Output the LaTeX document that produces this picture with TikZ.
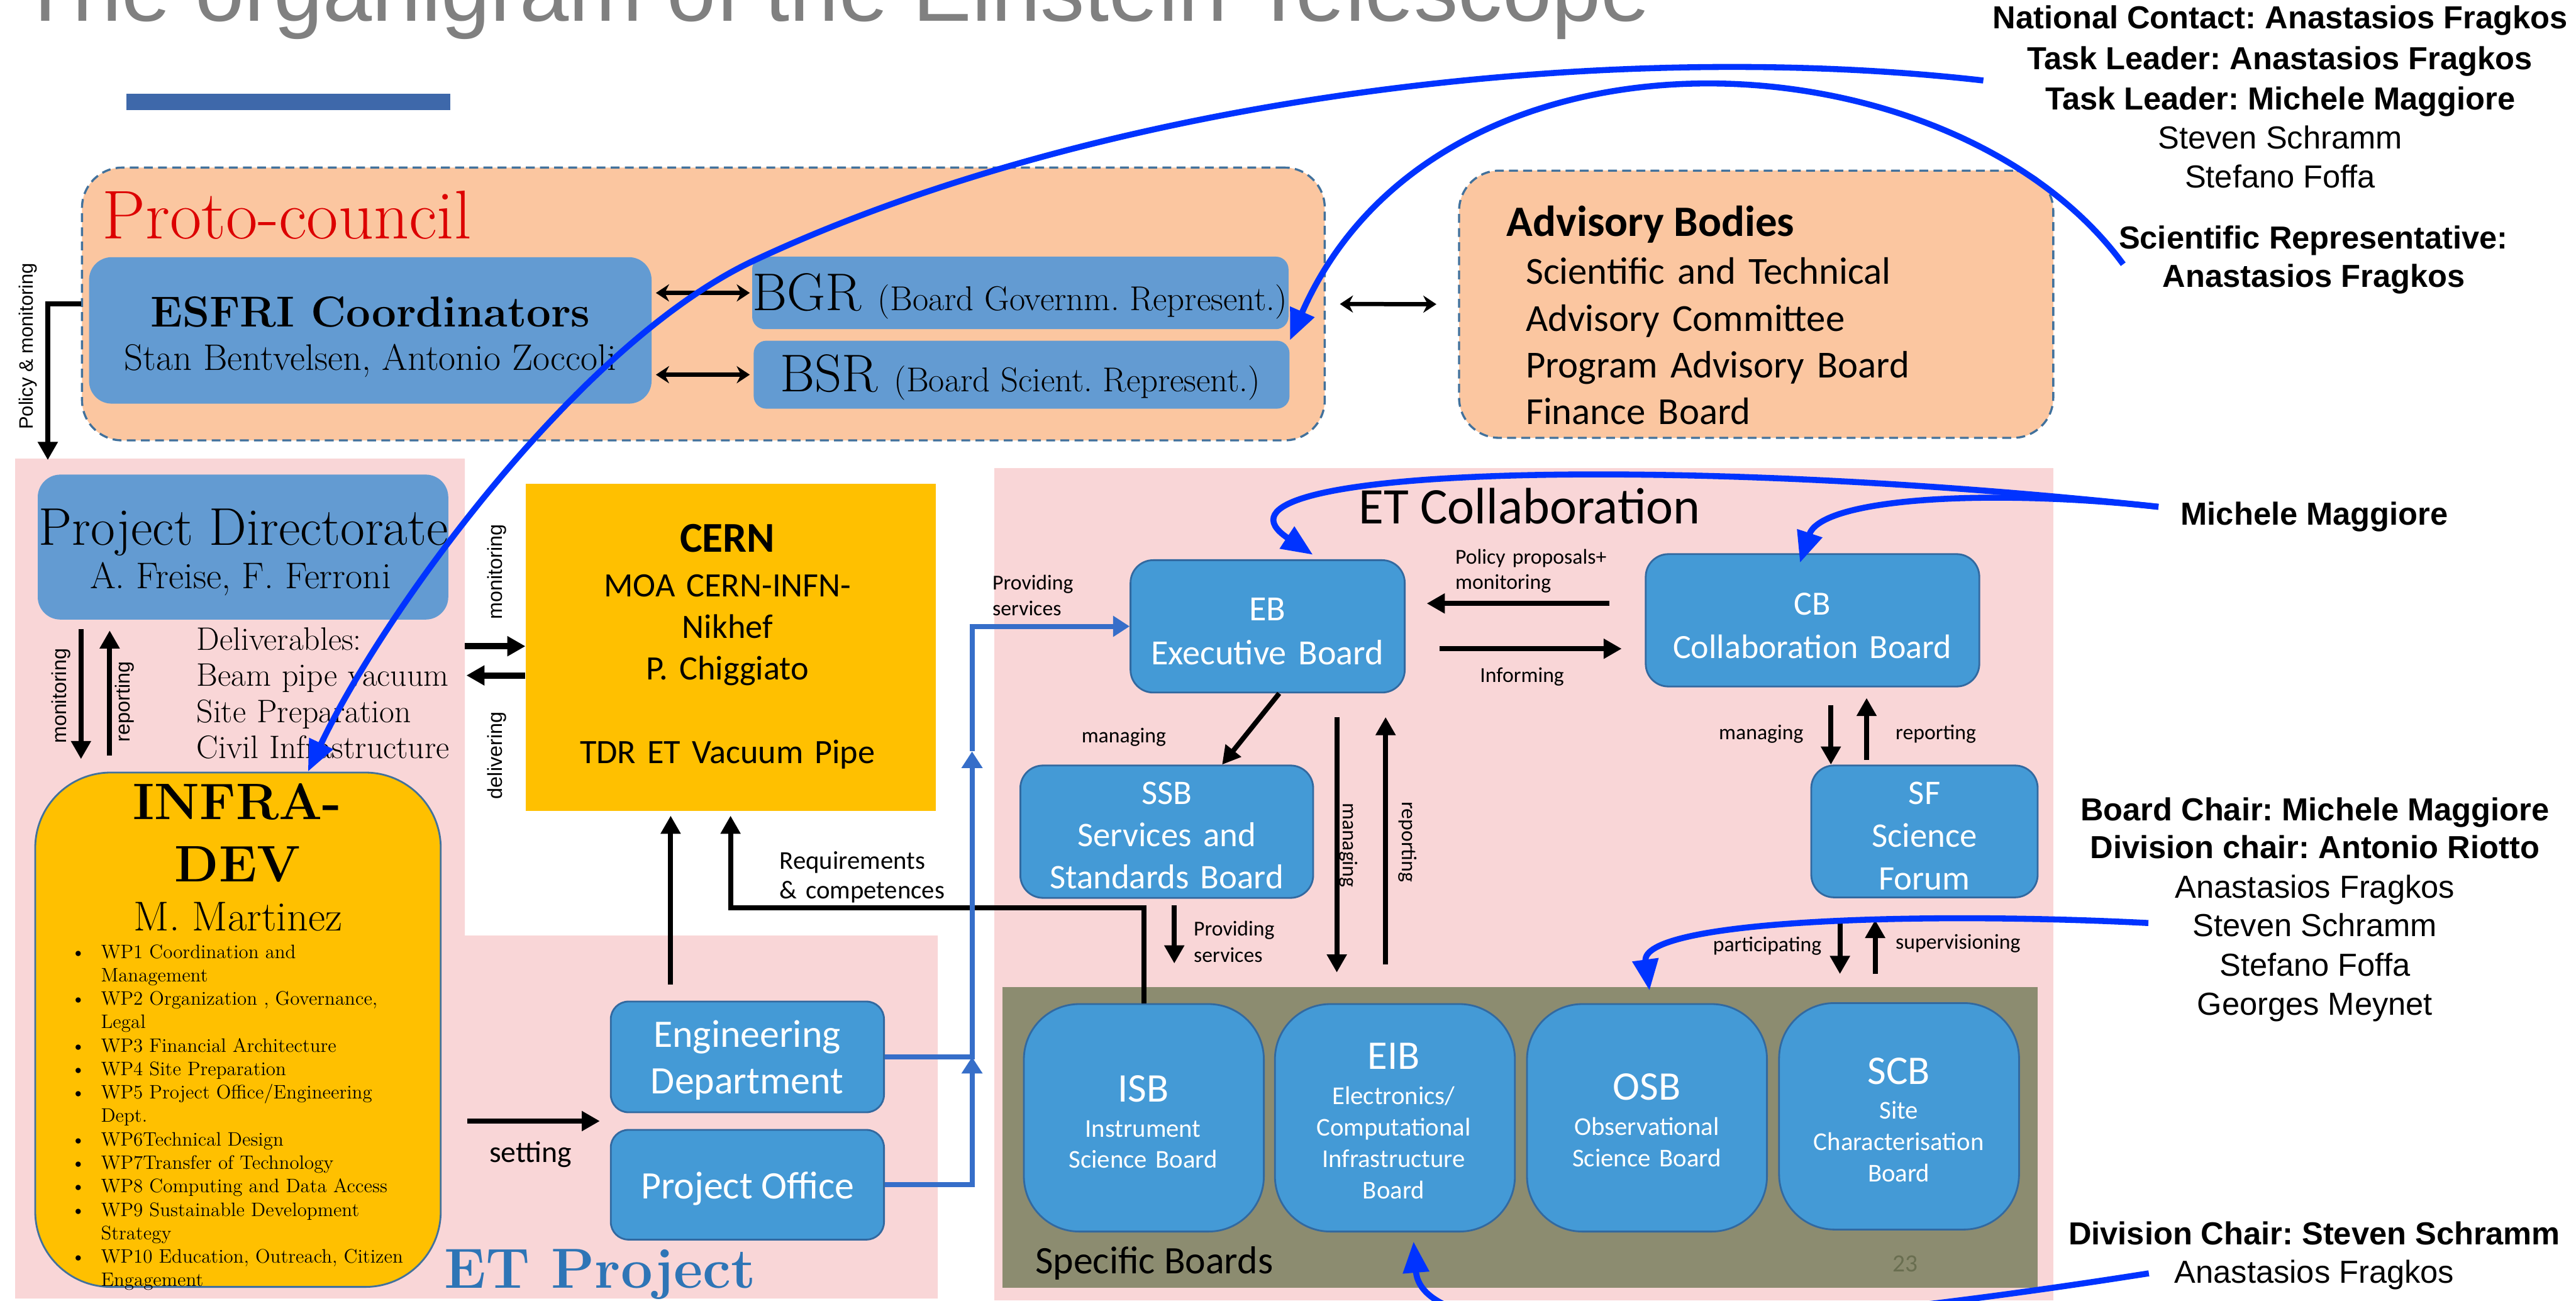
\documentclass[tikz,border=0pt]{standalone}
\usepackage{fontspec}
\usetikzlibrary{arrows,arrows.meta,calc}

\newfontfamily\calfont{Carlito}
\newfontfamily\helvfont{Liberation Sans}
\newcommand{\fsz}[2]{\fontsize{#1}{#2}\selectfont}
\frenchspacing

\definecolor{peach}{RGB}{251,198,160}
\definecolor{dashblue}{RGB}{65,113,156}
\definecolor{softblue}{RGB}{99,155,210}
\definecolor{pinkbg}{RGB}{249,214,215}
\definecolor{amber}{RGB}{255,192,0}
\definecolor{boxblue}{RGB}{68,154,214}
\definecolor{boxline}{RGB}{50,105,160}
\definecolor{boardolive}{RGB}{140,140,112}
\definecolor{serviceblue}{RGB}{54,110,201}
\definecolor{noteblue}{RGB}{0,51,255}
\definecolor{titlegray}{RGB}{128,128,128}
\definecolor{projblue}{RGB}{46,117,182}
\definecolor{protored}{RGB}{220,0,0}
\definecolor{barblue}{RGB}{62,104,170}
\definecolor{pagenum}{RGB}{105,110,80}

\begin{document}
\begin{tikzpicture}[x=1cm,y=-1cm]
\tikzstyle{council} = [rectangle, draw=dashblue, dash pattern=on 5pt off 3pt, line width=1.2pt, fill=peach, rounded corners=0.8cm]
\tikzstyle{softbox} = [rectangle, fill=softblue, rounded corners=0.45cm]
\tikzstyle{board} = [rectangle, draw=boxline, line width=1pt, fill=boxblue, rounded corners=0.45cm]
\tikzstyle{specific} = [board, rounded corners=1.1cm, minimum width=4.77cm, minimum height=4.52cm]
\tikzstyle{words} = [inner sep=0pt, align=center]
\tikzstyle{lbl} = [inner sep=0pt, font=\calfont\fsz{12}{14.5}]
\tikzstyle{sidetext} = [inner sep=0pt, anchor=base, font=\helvfont\fsz{18}{22}]
\tikzstyle{line} = [draw, line width=2.8pt, ->, >={Triangle[length=0.36cm,width=0.38cm]}]
\tikzstyle{twoway} = [draw, line width=2.4pt, <->, >={Stealth[length=0.26cm,width=0.34cm]}]
\tikzstyle{service} = [draw=serviceblue, line width=2.8pt, ->, >={Triangle[length=0.33cm,width=0.4cm]}]
\tikzstyle{note} = [draw=noteblue, line width=3.4pt, ->, >={Triangle[length=0.62cm,width=0.5cm]}]

\useasboundingbox (0,0) rectangle (51.2,25.84);

% backdrops
\fill[pinkbg] (0.30,9.11) -- (9.24,9.11) -- (9.24,18.59) -- (18.64,18.59) -- (18.64,25.80) -- (0.30,25.80) -- cycle;
\fill[pinkbg] (19.76,9.30) rectangle (40.81,25.84);
\node[rectangle, fill=boardolive, inner sep=0pt, minimum width=20.58cm, minimum height=5.98cm] (spec) at (30.21,22.60) {};

\node[anchor=base west, inner sep=0pt, text=titlegray, font=\helvfont\fsz{50}{60}] (title) at (0.36,0.42) {The organigram of the Einstein Telescope};
\fill[barblue] (2.51,1.86) rectangle (8.95,2.19);

% proto-council
\node[council, minimum width=24.70cm, minimum height=5.42cm] (proto) at (13.98,6.04) {};
\node[words, anchor=base west, text=protored, font=\fsz{39}{44}] (proto-lbl) at (2.03,4.74) {Proto-council};
\node[softbox, minimum width=11.18cm, minimum height=2.91cm] (esfri) at (7.36,6.565) {};
\node[words, anchor=base, font=\bfseries\fsz{24.5}{28}] (esfri-head) at (7.36,6.49) {ESFRI Coordinators};
\node[words, anchor=base, font=\fsz{20.9}{24}] (esfri-names) at (7.36,7.35) {Stan Bentvelsen, Antonio Zoccoli};
\node[softbox, rounded corners=0.25cm, minimum width=10.66cm, minimum height=1.44cm] (bgr) at (20.28,5.82) {};
\node[softbox, rounded corners=0.25cm, minimum width=10.65cm, minimum height=1.35cm] (bsr) at (20.305,7.445) {};
\node[words, anchor=base west, font=\fsz{30}{33}] (bgr-txt) at (14.95,6.17) {BGR\ {\fsz{19.5}{22}(Board Governm. Represent.)}};
\node[words, anchor=base west, font=\fsz{30}{33}] (bsr-txt) at (15.50,7.78) {BSR\ {\fsz{19.5}{22}(Board Scient. Represent.)}};

\node[council, minimum width=11.81cm, minimum height=5.31cm] (adv) at (34.905,6.045) {};
\node[words, anchor=base west, font=\calfont\bfseries\fsz{24.5}{28}] (adv-head) at (29.94,4.70) {Advisory Bodies};
\node[words, align=left, anchor=base west, text width=10cm, font=\calfont\fsz{21.6}{26.4}] (adv-list) at (30.32,5.65) {Scientific and Technical\\Advisory Committee\\Program Advisory Board\\Finance Board};

% ET project
\node[softbox, minimum width=8.16cm, minimum height=2.88cm] (pd) at (4.83,10.87) {};
\node[words, anchor=base, font=\fsz{30}{34}] (pd-head) at (4.84,10.83) {Project Directorate};
\node[words, anchor=base, font=\fsz{21}{25}] (pd-names) at (4.78,11.69) {A. Freise, F. Ferroni};
\node[words, align=left, anchor=base west, text width=6cm, font=\fsz{18.4}{20.4}] (deliv) at (3.90,12.92) {Deliverables:\\Beam pipe vacuum\\Site Preparation\\Civil Infrastructure};

\node[rectangle, draw=dashblue, line width=1pt, fill=amber, rounded corners=1.5cm, minimum width=8.06cm, minimum height=10.22cm] (infra) at (4.73,20.46) {};
\node[words, anchor=base, text width=7cm, font=\bfseries\fsz{29}{35.3}] (infra-head) at (4.72,16.28) {INFRA-\\DEV};
\node[words, anchor=base, font=\fsz{23.6}{27}] (infra-lead) at (4.73,18.49) {M. Martinez};
\node[inner sep=0pt, anchor=base west, font=\fsz{11}{13.25}] (infra-wp) at (1.40,19.04) {\begin{tabular}[t]{@{}p{0.6cm}@{}l@{}}
\textbullet & WP1 Coordination and\\
 & Management\\
\textbullet & WP2 Organization , Governance,\\
 & Legal\\
\textbullet & WP3 Financial Architecture\\
\textbullet & WP4 Site Preparation\\
\textbullet & WP5 Project Office/Engineering\\
 & Dept.\\
\textbullet & WP6Technical Design\\
\textbullet & WP7Transfer of Technology\\
\textbullet & WP8 Computing and Data Access\\
\textbullet & WP9 Sustainable Development\\
 & Strategy\\
\textbullet & WP10 Education, Outreach, Citizen\\
 & Engagement
\end{tabular}};
\node[words, anchor=base west, text=projblue, font=\bfseries\fsz{32}{36}] (etproj-lbl) at (8.82,25.59) {ET Project};

\node[rectangle, fill=amber, minimum width=8.15cm, minimum height=6.50cm] (cern) at (14.525,12.86) {};
\node[words, anchor=base, font=\calfont\bfseries\fsz{24}{28}] (cern-head) at (14.46,10.97) {CERN};
\node[words, anchor=base, text width=7.8cm, font=\calfont\fsz{19.3}{23.6}] (cern-txt) at (14.46,11.85) {MOA CERN-INFN-\\Nikhef\\P. Chiggiato\\[23.6pt]TDR ET Vacuum Pipe};

\node[board, rounded corners=0.35cm, minimum width=5.43cm, minimum height=2.20cm] (ed) at (14.855,21.0) {};
\node[words, anchor=base, text width=5cm, text=white, font=\calfont\fsz{22}{26.2}] (ed-txt) at (14.85,20.81) {Engineering\\Department};
\node[board, rounded corners=0.35cm, minimum width=5.43cm, minimum height=2.18cm] (po) at (14.855,23.54) {};
\node[words, anchor=base, text=white, font=\calfont\fsz{22}{26}] (po-txt) at (14.86,23.82) {Project Office};

% ET collaboration
\node[words, anchor=base west, font=\calfont\fsz{29}{33}] (collab-lbl) at (27.00,10.40) {ET Collaboration};
\node[board, minimum width=5.45cm, minimum height=2.63cm] (eb) at (25.195,12.445) {};
\node[words, anchor=base, text width=5.2cm, text=white, font=\calfont\fsz{20}{25}] (eb-txt) at (25.19,12.33) {EB\\Executive Board};
\node[board, minimum width=6.63cm, minimum height=2.63cm] (cb) at (36.025,12.325) {};
\node[words, anchor=base, text width=6.3cm, text=white, font=\calfont\fsz{19.2}{24.5}] (cb-txt) at (36.02,12.22) {CB\\Collaboration Board};
\node[board, minimum width=5.82cm, minimum height=2.63cm] (ssb) at (23.19,16.525) {};
\node[words, anchor=base, text width=5.6cm, text=white, font=\calfont\fsz{19.5}{23.8}] (ssb-txt) at (23.19,15.98) {SSB\\Services and\\Standards Board};
\node[board, minimum width=4.50cm, minimum height=2.62cm] (sf) at (38.25,16.52) {};
\node[words, anchor=base, text width=4.3cm, text=white, font=\calfont\fsz{19.5}{24.2}] (sf-txt) at (38.25,15.98) {SF\\Science\\Forum};

\node[specific] (isb) at (22.735,22.21) {};
\node[specific] (eib) at (27.725,22.21) {};
\node[specific] (osb) at (32.735,22.21) {};
\node[specific, minimum height=4.50cm] (scb) at (37.745,22.18) {};
\node[words, anchor=base, text=white, font=\calfont\fsz{23}{27}] (isb-head) at (22.72,21.89) {ISB};
\node[words, anchor=base, text width=4.5cm, text=white, font=\calfont\fsz{14.5}{17.4}] (isb-txt) at (22.72,22.59) {Instrument\\Science Board};
\node[words, anchor=base, text=white, font=\calfont\fsz{23}{27}] (eib-head) at (27.70,21.24) {EIB};
\node[words, anchor=base, text width=4.5cm, text=white, font=\calfont\fsz{14.5}{17.8}] (eib-txt) at (27.70,21.94) {Electronics/\\Computational\\Infrastructure\\Board};
\node[words, anchor=base, text=white, font=\calfont\fsz{23}{27}] (osb-head) at (32.73,21.86) {OSB};
\node[words, anchor=base, text width=4.5cm, text=white, font=\calfont\fsz{14.5}{17.8}] (osb-txt) at (32.73,22.55) {Observational\\Science Board};
\node[words, anchor=base, text=white, font=\calfont\fsz{23}{27}] (scb-head) at (37.74,21.54) {SCB};
\node[words, anchor=base, text width=4.5cm, text=white, font=\calfont\fsz{14.5}{17.8}] (scb-txt) at (37.74,22.23) {Site\\Characterisation\\Board};
\node[words, anchor=base west, font=\calfont\fsz{22}{26}] (spec-lbl) at (20.57,25.30) {Specific Boards};
\node[words, anchor=base, text=pagenum, font=\calfont\fsz{14}{16}] (page-lbl) at (37.87,25.27) {23};

% names on the right
\node[sidetext, font=\helvfont\bfseries\fsz{18}{22}] (nc) at (45.32,0.57) {National Contact: Anastasios Fragkos};
\node[sidetext, font=\helvfont\bfseries\fsz{18}{22}] (tl-af) at (45.31,1.38) {Task Leader: Anastasios Fragkos};
\node[sidetext, font=\helvfont\bfseries\fsz{18}{22}] (tl-mm) at (45.32,2.18) {Task Leader: Michele Maggiore};
\node[sidetext] (b1-ss) at (45.32,2.96) {Steven Schramm};
\node[sidetext] (b1-sf) at (45.32,3.73) {Stefano Foffa};
\node[sidetext, font=\helvfont\bfseries\fsz{18}{22}] (sci) at (45.98,4.94) {Scientific Representative:};
\node[sidetext, font=\helvfont\bfseries\fsz{18}{22}] (sci-af) at (45.99,5.71) {Anastasios Fragkos};
\node[sidetext, font=\helvfont\bfseries\fsz{18}{22}] (mm) at (46.00,10.43) {Michele Maggiore};
\node[sidetext, font=\helvfont\bfseries\fsz{18}{22}] (bc) at (46.01,16.30) {Board Chair: Michele Maggiore};
\node[sidetext, font=\helvfont\bfseries\fsz{18}{22}] (dc) at (46.01,17.06) {Division chair: Antonio Riotto};
\node[sidetext] (b4-af) at (46.01,17.84) {Anastasios Fragkos};
\node[sidetext] (b4-ss) at (46.01,18.61) {Steven Schramm};
\node[sidetext] (b4-sf) at (46.01,19.39) {Stefano Foffa};
\node[sidetext] (b4-gm) at (46.01,20.17) {Georges Meynet};
\node[sidetext, font=\helvfont\bfseries\fsz{18}{22}] (dcs) at (46.00,24.73) {Division Chair: Steven Schramm};
\node[sidetext] (b5-af) at (46.00,25.49) {Anastasios Fragkos};

% connectors
\draw[twoway, shorten <=0.08cm, shorten >=0.04cm] (esfri.east |- bgr.west) -- (bgr.west);
\draw[twoway, shorten <=0.08cm, shorten >=0.07cm] (esfri.east |- bsr.west) -- (bsr.west);
\draw[twoway, shorten <=0.28cm, shorten >=0.43cm] (proto.east) -- (adv.west);

\coordinate (policy-end) at (0.95,9.14);
\draw[line] (proto.west) -| (policy-end);
\node[rotate=90, inner sep=0pt, font=\helvfont\fsz{11}{13}] (policy-lbl) at (0.56,6.88) {Policy \& monitoring};

\coordinate (pd-mon) at (1.61,0);
\coordinate (pd-rep) at (2.18,0);
\draw[line, shorten <=0.18cm, shorten >=0.25cm] (pd.south -| pd-mon) -- (infra.north -| pd-mon);
\draw[line, shorten <=0.32cm, shorten >=0.21cm] (infra.north -| pd-rep) -- (pd.south -| pd-rep);
\node[rotate=90, inner sep=0pt, font=\helvfont\fsz{11.5}{13}] (mon-lbl) at (1.21,13.83) {monitoring};
\node[rotate=90, inner sep=0pt, font=\helvfont\fsz{11.5}{13}] (rep-lbl) at (2.48,13.94) {reporting};

\coordinate (gate-in) at (9.24,12.84);
\coordinate (gate-out) at (9.27,13.42);
\draw[line, line width=3.6pt] (gate-in) -- (cern.west |- gate-in);
\draw[line, line width=3.6pt] (cern.west |- gate-out) -- (gate-out);
\node[rotate=90, inner sep=0pt, font=\helvfont\fsz{11.5}{13}] (mon2-lbl) at (9.88,11.36) {monitoring};
\node[rotate=90, inner sep=0pt, font=\helvfont\fsz{11.5}{13}] (del-lbl) at (9.88,15.01) {delivering};

\coordinate (ed-up) at (13.33,0);
\draw[line, shorten <=0.32cm, shorten >=0.09cm] (ed.north -| ed-up) -- (cern.south -| ed-up);
\coordinate (set-gap) at ($(ed.south west)!0.5!(po.north west)$);
\draw[line, shorten <=0.51cm, shorten >=0.2cm] (infra.east |- set-gap) -- (set-gap);
\node[words, anchor=base west, font=\calfont\fsz{17}{20}] (set-lbl) at (9.72,23.09) {setting};

\coordinate (req) at (14.52,18.04);
\draw[line, shorten >=0.09cm] (isb.north) |- (req) -- (req |- cern.south);
\node[words, align=left, anchor=base west, text width=5cm, font=\calfont\fsz{14.5}{16.8}] (req-lbl) at (15.49,17.27) {Requirements\\\& competences};

\coordinate (svc-mid) at (19.32,14.93);
\draw[service] (ed.east) -| (svc-mid);
\draw[service] (svc-mid) |- (eb.west);
\draw[service] (po.east) -| (ed.east -| svc-mid);
\node[lbl, align=left, text width=3cm, anchor=base west] (prov-lbl) at (19.72,11.72) {Providing\\services};

\coordinate (pp-row) at (0,11.99);
\coordinate (inf-row) at (0,12.89);
\draw[line, shorten <=0.70cm, shorten >=0.42cm] (cb.west |- pp-row) -- (eb.east |- pp-row);
\draw[line, shorten <=0.67cm, shorten >=0.46cm] (eb.east |- inf-row) -- (cb.west |- inf-row);
\node[lbl, align=left, text width=4cm, anchor=base west] (pp-lbl) at (28.92,11.20) {Policy proposals+\\monitoring};
\node[lbl, anchor=base west] (inf-lbl) at (29.41,13.56) {Informing};

\draw[line] ($(eb.south)+(0.23,0)$) -- ($(ssb.north)+(1.10,0)$);
\node[lbl, anchor=base west] (man1-lbl) at (21.49,14.75) {managing};

\coordinate (eib-man) at (26.57,0);
\coordinate (eib-rep) at (27.54,0);
\draw[line, shorten <=0.47cm, shorten >=0.61cm] (eb.south -| eib-man) -- (eib.north -| eib-man);
\draw[line, shorten <=0.77cm, shorten >=0.47cm] (eib.north -| eib-rep) -- (eb.south -| eib-rep);
\node[lbl, rotate=-90] (man2-lbl) at (26.80,16.79) {managing};
\node[lbl, rotate=-90] (rep2-lbl) at (27.98,16.73) {reporting};

\coordinate (ssb-prov) at (23.34,0);
\draw[line, shorten <=0.13cm, shorten >=0.46cm] (ssb.south -| ssb-prov) -- (spec.north -| ssb-prov);
\node[lbl, align=left, text width=3cm, anchor=base west, font=\calfont\fsz{12}{15}] (prov2-lbl) at (23.72,18.59) {Providing\\services};

\coordinate (sf-man) at (36.39,0);
\coordinate (sf-rep) at (37.10,0);
\draw[line, shorten <=0.35cm] (cb.south -| sf-man) -- (sf.north -| sf-man);
\draw[line, shorten <=0.09cm, shorten >=0.21cm] (sf.north -| sf-rep) -- (cb.south -| sf-rep);
\node[lbl, anchor=base east] (man3-lbl) at (35.85,14.69) {managing};
\node[lbl, anchor=base west] (rep3-lbl) at (37.67,14.69) {reporting};

\coordinate (spec-par) at (36.57,0);
\coordinate (spec-sup) at (37.27,0);
\draw[line, shorten <=0.43cm, shorten >=0.25cm] (sf.south -| spec-par) -- (spec.north -| spec-par);
\draw[line, shorten <=0.25cm, shorten >=0.43cm] (spec.north -| spec-sup) -- (sf.south -| spec-sup);
\node[lbl, anchor=base east] (par-lbl) at (36.21,18.90) {participating};
\node[lbl, anchor=base west] (sup-lbl) at (37.67,18.85) {supervisioning};

% who sits where
\coordinate (from-tl) at (39.42,1.60);
\coordinate (from-sci) at (42.20,5.25);
\coordinate (from-mm) at (42.90,10.07);
\coordinate (from-bc) at (42.70,18.34);
\coordinate (from-dcs) at (42.71,25.30);
\draw[note] (from-tl) .. controls (32,0.75) and (22,1.9) .. (15,5.17) .. controls (11.5,6.8) and (7.6,12.2) .. ($(infra.north)+(1.39,0)$);
\draw[note] (from-sci) .. controls (38.8,0.6) and (28.6,0.0) .. (bsr.north east);
\draw[note] (from-mm) .. controls (33,9.0) and (23.5,9.3) .. ($(eb.north)+(0.9,-0.09)$);
\draw[note] (from-mm) .. controls (39.5,9.7) and (36.2,9.9) .. ($(cb.north)+(-0.25,0.19)$);
\draw[note] (from-bc) .. controls (38,18.1) and (32.6,18.3) .. ($(osb.north)+(0.05,-0.25)$);
\draw[note] (from-dcs) .. controls (37,26.2) and (28.3,27.2) .. ($(eib.south)+(0.37,0.18)$);

\end{tikzpicture}
\end{document}
